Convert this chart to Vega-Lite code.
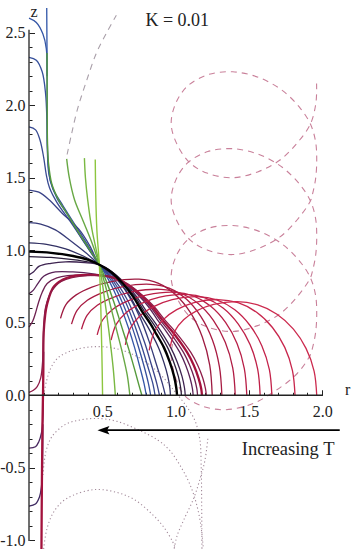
{
"$schema":"https://vega.github.io/schema/vega-lite/v6.json",
"width":321,"height":541,
"autosize":{"type":"none"},
"padding":{"left":29,"top":8,"right":2,"bottom":3},
"background":"white",
"config":{"view":{"stroke":null},"font":"Liberation Serif"},
"datasets":{
"bp":[
{"c":"btop","i":0,"r":0.121,"z":2.67},{"c":"btop","i":1,"r":0.122,"z":2.5},{"c":"btop","i":2,"r":0.123,"z":2.35},{"c":"btop","i":3,"r":0.123,"z":2.2},
{"c":"ba","i":0,"r":0,"z":2.6},{"c":"ba","i":1,"r":0.05,"z":2.57},{"c":"ba","i":2,"r":0.095,"z":2.49},{"c":"ba","i":3,"r":0.118,"z":2.39},{"c":"ba","i":4,"r":0.123,"z":2.2},{"c":"ba","i":5,"r":0.124,"z":1.9},{"c":"ba","i":6,"r":0.128,"z":1.65},{"c":"ba","i":7,"r":0.145,"z":1.48},{"c":"ba","i":8,"r":0.19,"z":1.36},{"c":"ba","i":9,"r":0.26,"z":1.25},{"c":"ba","i":10,"r":0.36,"z":1.08},{"c":"ba","i":11,"r":0.48,"z":0.9},{"c":"ba","i":12,"r":0.53,"z":0.82},{"c":"ba","i":13,"r":0.58,"z":0.72},{"c":"ba","i":14,"r":0.63,"z":0.6},{"c":"ba","i":15,"r":0.68,"z":0.46},{"c":"ba","i":16,"r":0.72,"z":0.33},{"c":"ba","i":17,"r":0.755,"z":0.2},{"c":"ba","i":18,"r":0.785,"z":0.08},{"c":"ba","i":19,"r":0.8,"z":0},
{"c":"bb","i":0,"r":0,"z":2.33},{"c":"bb","i":1,"r":0.05,"z":2.31},{"c":"bb","i":2,"r":0.09,"z":2.23},{"c":"bb","i":3,"r":0.113,"z":2.08},{"c":"bb","i":4,"r":0.122,"z":1.9},{"c":"bb","i":5,"r":0.125,"z":1.7},{"c":"bb","i":6,"r":0.135,"z":1.53},{"c":"bb","i":7,"r":0.165,"z":1.42},{"c":"bb","i":8,"r":0.23,"z":1.31},{"c":"bb","i":9,"r":0.33,"z":1.15},{"c":"bb","i":10,"r":0.41,"z":1.02},{"c":"bb","i":11,"r":0.48,"z":0.9},{"c":"bb","i":12,"r":0.535,"z":0.83},{"c":"bb","i":13,"r":0.59,"z":0.74},{"c":"bb","i":14,"r":0.645,"z":0.62},{"c":"bb","i":15,"r":0.7,"z":0.48},{"c":"bb","i":16,"r":0.745,"z":0.34},{"c":"bb","i":17,"r":0.785,"z":0.2},{"c":"bb","i":18,"r":0.815,"z":0.08},{"c":"bb","i":19,"r":0.83,"z":0},
{"c":"bc","i":0,"r":0,"z":1.85},{"c":"bc","i":1,"r":0.045,"z":1.83},{"c":"bc","i":2,"r":0.075,"z":1.76},{"c":"bc","i":3,"r":0.1,"z":1.64},{"c":"bc","i":4,"r":0.118,"z":1.52},{"c":"bc","i":5,"r":0.14,"z":1.43},{"c":"bc","i":6,"r":0.19,"z":1.33},{"c":"bc","i":7,"r":0.28,"z":1.2},{"c":"bc","i":8,"r":0.38,"z":1.05},{"c":"bc","i":9,"r":0.48,"z":0.9},{"c":"bc","i":10,"r":0.54,"z":0.835},{"c":"bc","i":11,"r":0.6,"z":0.75},{"c":"bc","i":12,"r":0.66,"z":0.64},{"c":"bc","i":13,"r":0.715,"z":0.5},{"c":"bc","i":14,"r":0.765,"z":0.35},{"c":"bc","i":15,"r":0.81,"z":0.2},{"c":"bc","i":16,"r":0.845,"z":0.08},{"c":"bc","i":17,"r":0.86,"z":0},
{"c":"bd","i":0,"r":0,"z":1.415},{"c":"bd","i":1,"r":0.067,"z":1.4},{"c":"bd","i":2,"r":0.135,"z":1.35},{"c":"bd","i":3,"r":0.226,"z":1.255},{"c":"bd","i":4,"r":0.34,"z":1.145},{"c":"bd","i":5,"r":0.415,"z":1.03},{"c":"bd","i":6,"r":0.48,"z":0.9},{"c":"bd","i":7,"r":0.545,"z":0.84},{"c":"bd","i":8,"r":0.61,"z":0.76},{"c":"bd","i":9,"r":0.675,"z":0.65},{"c":"bd","i":10,"r":0.735,"z":0.51},{"c":"bd","i":11,"r":0.79,"z":0.36},{"c":"bd","i":12,"r":0.835,"z":0.21},{"c":"bd","i":13,"r":0.872,"z":0.08},{"c":"bd","i":14,"r":0.89,"z":0},
{"c":"be","i":0,"r":0,"z":1.19},{"c":"be","i":1,"r":0.08,"z":1.18},{"c":"be","i":2,"r":0.18,"z":1.14},{"c":"be","i":3,"r":0.29,"z":1.06},{"c":"be","i":4,"r":0.39,"z":0.98},{"c":"be","i":5,"r":0.48,"z":0.9},{"c":"be","i":6,"r":0.55,"z":0.845},{"c":"be","i":7,"r":0.62,"z":0.775},{"c":"be","i":8,"r":0.69,"z":0.67},{"c":"be","i":9,"r":0.76,"z":0.53},{"c":"be","i":10,"r":0.82,"z":0.37},{"c":"be","i":11,"r":0.87,"z":0.21},{"c":"be","i":12,"r":0.91,"z":0.08},{"c":"be","i":13,"r":0.93,"z":0},
{"c":"bf","i":0,"r":0,"z":1.05},{"c":"bf","i":1,"r":0.12,"z":1.04},{"c":"bf","i":2,"r":0.25,"z":1.01},{"c":"bf","i":3,"r":0.37,"z":0.96},{"c":"bf","i":4,"r":0.48,"z":0.9},{"c":"bf","i":5,"r":0.553,"z":0.85},{"c":"bf","i":6,"r":0.626,"z":0.77},{"c":"bf","i":7,"r":0.69,"z":0.68},{"c":"bf","i":8,"r":0.745,"z":0.58},{"c":"bf","i":9,"r":0.8,"z":0.49},{"c":"bf","i":10,"r":0.883,"z":0.33},{"c":"bf","i":11,"r":0.919,"z":0.23},{"c":"bf","i":12,"r":0.947,"z":0.13},{"c":"bf","i":13,"r":0.961,"z":0.05},{"c":"bf","i":14,"r":0.965,"z":0},
{"c":"p1","i":0,"r":0,"z":0.956},{"c":"p1","i":1,"r":0.15,"z":0.95},{"c":"p1","i":2,"r":0.3,"z":0.935},{"c":"p1","i":3,"r":0.4,"z":0.92},{"c":"p1","i":4,"r":0.48,"z":0.9},{"c":"p1","i":5,"r":0.565,"z":0.85},{"c":"p1","i":6,"r":0.649,"z":0.77},{"c":"p1","i":7,"r":0.723,"z":0.68},{"c":"p1","i":8,"r":0.786,"z":0.58},{"c":"p1","i":9,"r":0.85,"z":0.49},{"c":"p1","i":10,"r":0.945,"z":0.33},{"c":"p1","i":11,"r":0.987,"z":0.23},{"c":"p1","i":12,"r":1.019,"z":0.13},{"c":"p1","i":13,"r":1.035,"z":0.05},{"c":"p1","i":14,"r":1.04,"z":0},
{"c":"p2","i":0,"r":0,"z":0.83},{"c":"p2","i":1,"r":0.03,"z":0.85},{"c":"p2","i":2,"r":0.07,"z":0.89},{"c":"p2","i":3,"r":0.15,"z":0.91},{"c":"p2","i":4,"r":0.25,"z":0.92},{"c":"p2","i":5,"r":0.38,"z":0.915},{"c":"p2","i":6,"r":0.48,"z":0.9},{"c":"p2","i":7,"r":0.568,"z":0.85},{"c":"p2","i":8,"r":0.657,"z":0.77},{"c":"p2","i":9,"r":0.734,"z":0.68},{"c":"p2","i":10,"r":0.801,"z":0.58},{"c":"p2","i":11,"r":0.867,"z":0.49},{"c":"p2","i":12,"r":0.966,"z":0.33},{"c":"p2","i":13,"r":1.011,"z":0.23},{"c":"p2","i":14,"r":1.044,"z":0.13},{"c":"p2","i":15,"r":1.061,"z":0.05},{"c":"p2","i":16,"r":1.066,"z":0},
{"c":"p3","i":0,"r":0,"z":0.7},{"c":"p3","i":1,"r":0.03,"z":0.725},{"c":"p3","i":2,"r":0.06,"z":0.77},{"c":"p3","i":3,"r":0.1,"z":0.82},{"c":"p3","i":4,"r":0.18,"z":0.85},{"c":"p3","i":5,"r":0.3,"z":0.85},{"c":"p3","i":6,"r":0.45,"z":0.835},{"c":"p3","i":7,"r":0.58,"z":0.81},{"c":"p3","i":8,"r":0.662,"z":0.765},{"c":"p3","i":9,"r":0.743,"z":0.693},{"c":"p3","i":10,"r":0.814,"z":0.612},{"c":"p3","i":11,"r":0.875,"z":0.522},{"c":"p3","i":12,"r":0.936,"z":0.441},{"c":"p3","i":13,"r":1.028,"z":0.297},{"c":"p3","i":14,"r":1.069,"z":0.207},{"c":"p3","i":15,"r":1.099,"z":0.117},{"c":"p3","i":16,"r":1.115,"z":0.045},{"c":"p3","i":17,"r":1.12,"z":0},
{"c":"p4","i":0,"r":0,"z":0.47},{"c":"p4","i":1,"r":0.025,"z":0.51},{"c":"p4","i":2,"r":0.044,"z":0.565},{"c":"p4","i":3,"r":0.065,"z":0.64},{"c":"p4","i":4,"r":0.09,"z":0.71},{"c":"p4","i":5,"r":0.124,"z":0.77},{"c":"p4","i":6,"r":0.19,"z":0.81},{"c":"p4","i":7,"r":0.37,"z":0.83},{"c":"p4","i":8,"r":0.58,"z":0.81},{"c":"p4","i":9,"r":0.666,"z":0.765},{"c":"p4","i":10,"r":0.752,"z":0.693},{"c":"p4","i":11,"r":0.827,"z":0.612},{"c":"p4","i":12,"r":0.892,"z":0.522},{"c":"p4","i":13,"r":0.956,"z":0.441},{"c":"p4","i":14,"r":1.053,"z":0.297},{"c":"p4","i":15,"r":1.096,"z":0.207},{"c":"p4","i":16,"r":1.128,"z":0.117},{"c":"p4","i":17,"r":1.145,"z":0.045},{"c":"p4","i":18,"r":1.15,"z":0},
{"c":"l1","i":0,"r":0,"z":-0.365},{"c":"l1","i":1,"r":0.044,"z":-0.355},{"c":"l1","i":2,"r":0.067,"z":-0.32},{"c":"l1","i":3,"r":0.085,"z":-0.26},{"c":"l1","i":4,"r":0.094,"z":-0.17},{"c":"l1","i":5,"r":0.097,"z":-0.05},{"c":"l1","i":6,"r":0.098,"z":0.1},{"c":"l1","i":7,"r":0.1,"z":0.3},
{"c":"l2","i":0,"r":0,"z":-0.764},{"c":"l2","i":1,"r":0.044,"z":-0.75},{"c":"l2","i":2,"r":0.072,"z":-0.7},{"c":"l2","i":3,"r":0.085,"z":-0.63},{"c":"l2","i":4,"r":0.09,"z":-0.56},{"c":"l2","i":5,"r":0.093,"z":-0.4},{"c":"l2","i":6,"r":0.095,"z":-0.2}
],
"rd":[
{"c":"rt","i":0,"r":0.085,"z":-1.06},{"c":"rt","i":1,"r":0.088,"z":-0.6},{"c":"rt","i":2,"r":0.092,"z":-0.2},{"c":"rt","i":3,"r":0.097,"z":0.1},{"c":"rt","i":4,"r":0.1,"z":0.43},{"c":"rt","i":5,"r":0.11,"z":0.55},{"c":"rt","i":6,"r":0.124,"z":0.63},{"c":"rt","i":7,"r":0.17,"z":0.75},{"c":"rt","i":8,"r":0.26,"z":0.81},{"c":"rt","i":9,"r":0.4,"z":0.83},{"c":"rt","i":10,"r":0.58,"z":0.81},{"c":"rt","i":11,"r":0.671,"z":0.765},{"c":"rt","i":12,"r":0.761,"z":0.693},{"c":"rt","i":13,"r":0.84,"z":0.612},{"c":"rt","i":14,"r":0.908,"z":0.522},{"c":"rt","i":15,"r":0.976,"z":0.441},{"c":"rt","i":16,"r":1.078,"z":0.297},{"c":"rt","i":17,"r":1.124,"z":0.207},{"c":"rt","i":18,"r":1.157,"z":0.117},{"c":"rt","i":19,"r":1.175,"z":0.045},{"c":"rt","i":20,"r":1.18,"z":0},
{"c":"rt2","i":0,"r":0,"z":0.02},{"c":"rt2","i":1,"r":0.03,"z":0.035},{"c":"rt2","i":2,"r":0.056,"z":0.06},{"c":"rt2","i":3,"r":0.08,"z":0.12},{"c":"rt2","i":4,"r":0.094,"z":0.25},{"c":"rt2","i":5,"r":0.1,"z":0.45},{"c":"rt2","i":6,"r":0.112,"z":0.6},{"c":"rt2","i":7,"r":0.15,"z":0.71},{"c":"rt2","i":8,"r":0.22,"z":0.785},{"c":"rt2","i":9,"r":0.4,"z":0.825},{"c":"rt2","i":10,"r":0.58,"z":0.81},{"c":"rt2","i":11,"r":0.675,"z":0.765},{"c":"rt2","i":12,"r":0.77,"z":0.693},{"c":"rt2","i":13,"r":0.853,"z":0.612},{"c":"rt2","i":14,"r":0.925,"z":0.522},{"c":"rt2","i":15,"r":0.996,"z":0.441},{"c":"rt2","i":16,"r":1.103,"z":0.297},{"c":"rt2","i":17,"r":1.151,"z":0.207},{"c":"rt2","i":18,"r":1.186,"z":0.117},{"c":"rt2","i":19,"r":1.204,"z":0.045},{"c":"rt2","i":20,"r":1.21,"z":0},
{"c":"r1","i":0,"r":0.215,"z":0.53},{"c":"r1","i":1,"r":0.252,"z":0.625},{"c":"r1","i":2,"r":0.322,"z":0.692},{"c":"r1","i":3,"r":0.429,"z":0.746},{"c":"r1","i":4,"r":0.563,"z":0.784},{"c":"r1","i":5,"r":0.75,"z":0.8},{"c":"r1","i":6,"r":0.88,"z":0.773},{"c":"r1","i":7,"r":1.0,"z":0.693},{"c":"r1","i":8,"r":1.104,"z":0.566},{"c":"r1","i":9,"r":1.183,"z":0.4},{"c":"r1","i":10,"r":1.233,"z":0.207},{"c":"r1","i":11,"r":1.25,"z":0},
{"c":"r2","i":0,"r":0.29,"z":0.49},{"c":"r2","i":1,"r":0.328,"z":0.586},{"c":"r2","i":2,"r":0.398,"z":0.655},{"c":"r2","i":3,"r":0.506,"z":0.71},{"c":"r2","i":4,"r":0.641,"z":0.749},{"c":"r2","i":5,"r":0.83,"z":0.765},{"c":"r2","i":6,"r":0.956,"z":0.739},{"c":"r2","i":7,"r":1.073,"z":0.663},{"c":"r2","i":8,"r":1.174,"z":0.541},{"c":"r2","i":9,"r":1.251,"z":0.383},{"c":"r2","i":10,"r":1.299,"z":0.198},{"c":"r2","i":11,"r":1.316,"z":0},
{"c":"r3","i":0,"r":0.358,"z":0.455},{"c":"r3","i":1,"r":0.396,"z":0.551},{"c":"r3","i":2,"r":0.466,"z":0.62},{"c":"r3","i":3,"r":0.575,"z":0.675},{"c":"r3","i":4,"r":0.71,"z":0.714},{"c":"r3","i":5,"r":0.9,"z":0.73},{"c":"r3","i":6,"r":1.031,"z":0.705},{"c":"r3","i":7,"r":1.154,"z":0.632},{"c":"r3","i":8,"r":1.258,"z":0.516},{"c":"r3","i":9,"r":1.339,"z":0.365},{"c":"r3","i":10,"r":1.39,"z":0.189},{"c":"r3","i":11,"r":1.407,"z":0},
{"c":"r4","i":0,"r":0.465,"z":0.416},{"c":"r4","i":1,"r":0.502,"z":0.519},{"c":"r4","i":2,"r":0.57,"z":0.592},{"c":"r4","i":3,"r":0.675,"z":0.651},{"c":"r4","i":4,"r":0.806,"z":0.692},{"c":"r4","i":5,"r":0.99,"z":0.71},{"c":"r4","i":6,"r":1.118,"z":0.686},{"c":"r4","i":7,"r":1.238,"z":0.615},{"c":"r4","i":8,"r":1.341,"z":0.502},{"c":"r4","i":9,"r":1.42,"z":0.355},{"c":"r4","i":10,"r":1.469,"z":0.184},{"c":"r4","i":11,"r":1.486,"z":0},
{"c":"r5","i":0,"r":0.56,"z":0.38},{"c":"r5","i":1,"r":0.596,"z":0.49},{"c":"r5","i":2,"r":0.662,"z":0.569},{"c":"r5","i":3,"r":0.764,"z":0.632},{"c":"r5","i":4,"r":0.892,"z":0.676},{"c":"r5","i":5,"r":1.07,"z":0.695},{"c":"r5","i":6,"r":1.201,"z":0.671},{"c":"r5","i":7,"r":1.324,"z":0.602},{"c":"r5","i":8,"r":1.428,"z":0.491},{"c":"r5","i":9,"r":1.509,"z":0.348},{"c":"r5","i":10,"r":1.56,"z":0.18},{"c":"r5","i":11,"r":1.577,"z":0},
{"c":"r6","i":0,"r":0.657,"z":0.347},{"c":"r6","i":1,"r":0.692,"z":0.464},{"c":"r6","i":2,"r":0.756,"z":0.547},{"c":"r6","i":3,"r":0.854,"z":0.613},{"c":"r6","i":4,"r":0.977,"z":0.66},{"c":"r6","i":5,"r":1.15,"z":0.68},{"c":"r6","i":6,"r":1.281,"z":0.657},{"c":"r6","i":7,"r":1.404,"z":0.589},{"c":"r6","i":8,"r":1.508,"z":0.481},{"c":"r6","i":9,"r":1.589,"z":0.34},{"c":"r6","i":10,"r":1.64,"z":0.176},{"c":"r6","i":11,"r":1.657,"z":0},
{"c":"r7","i":0,"r":0.82,"z":0.31},{"c":"r7","i":1,"r":0.853,"z":0.433},{"c":"r7","i":2,"r":0.914,"z":0.52},{"c":"r7","i":3,"r":1.008,"z":0.59},{"c":"r7","i":4,"r":1.126,"z":0.639},{"c":"r7","i":5,"r":1.29,"z":0.66},{"c":"r7","i":6,"r":1.426,"z":0.638},{"c":"r7","i":7,"r":1.553,"z":0.572},{"c":"r7","i":8,"r":1.661,"z":0.467},{"c":"r7","i":9,"r":1.745,"z":0.33},{"c":"r7","i":10,"r":1.797,"z":0.171},{"c":"r7","i":11,"r":1.815,"z":0},
{"c":"r8","i":0,"r":0.964,"z":0.335},{"c":"r8","i":1,"r":0.996,"z":0.444},{"c":"r8","i":2,"r":1.055,"z":0.521},{"c":"r8","i":3,"r":1.146,"z":0.583},{"c":"r8","i":4,"r":1.26,"z":0.626},{"c":"r8","i":5,"r":1.42,"z":0.645},{"c":"r8","i":6,"r":1.561,"z":0.623},{"c":"r8","i":7,"r":1.692,"z":0.559},{"c":"r8","i":8,"r":1.804,"z":0.456},{"c":"r8","i":9,"r":1.89,"z":0.323},{"c":"r8","i":10,"r":1.945,"z":0.167},{"c":"r8","i":11,"r":1.963,"z":0}
],
"gr":[
{"c":"g4","i":0,"r":0.123,"z":2.36},{"c":"g4","i":1,"r":0.124,"z":2.0},{"c":"g4","i":2,"r":0.126,"z":1.75},{"c":"g4","i":3,"r":0.133,"z":1.6},{"c":"g4","i":4,"r":0.155,"z":1.46},{"c":"g4","i":5,"r":0.2,"z":1.35},{"c":"g4","i":6,"r":0.27,"z":1.235},{"c":"g4","i":7,"r":0.34,"z":1.12},{"c":"g4","i":8,"r":0.41,"z":1.01},{"c":"g4","i":9,"r":0.48,"z":0.9},{"c":"g4","i":10,"r":0.53,"z":0.78},{"c":"g4","i":11,"r":0.58,"z":0.64},{"c":"g4","i":12,"r":0.63,"z":0.48},{"c":"g4","i":13,"r":0.68,"z":0.32},{"c":"g4","i":14,"r":0.72,"z":0.18},{"c":"g4","i":15,"r":0.75,"z":0.07},{"c":"g4","i":16,"r":0.77,"z":0},
{"c":"g3","i":0,"r":0.257,"z":1.63},{"c":"g3","i":1,"r":0.275,"z":1.5},{"c":"g3","i":2,"r":0.31,"z":1.35},{"c":"g3","i":3,"r":0.37,"z":1.2},{"c":"g3","i":4,"r":0.43,"z":1.05},{"c":"g3","i":5,"r":0.48,"z":0.9},{"c":"g3","i":6,"r":0.52,"z":0.76},{"c":"g3","i":7,"r":0.56,"z":0.6},{"c":"g3","i":8,"r":0.6,"z":0.44},{"c":"g3","i":9,"r":0.64,"z":0.28},{"c":"g3","i":10,"r":0.67,"z":0.14},{"c":"g3","i":11,"r":0.688,"z":0},
{"c":"g2","i":0,"r":0.378,"z":1.635},{"c":"g2","i":1,"r":0.385,"z":1.5},{"c":"g2","i":2,"r":0.4,"z":1.35},{"c":"g2","i":3,"r":0.43,"z":1.14},{"c":"g2","i":4,"r":0.455,"z":1.02},{"c":"g2","i":5,"r":0.48,"z":0.9},{"c":"g2","i":6,"r":0.505,"z":0.74},{"c":"g2","i":7,"r":0.53,"z":0.56},{"c":"g2","i":8,"r":0.555,"z":0.36},{"c":"g2","i":9,"r":0.575,"z":0.18},{"c":"g2","i":10,"r":0.589,"z":0},
{"c":"g1","i":0,"r":0.452,"z":1.625},{"c":"g1","i":1,"r":0.455,"z":1.4},{"c":"g1","i":2,"r":0.463,"z":1.14},{"c":"g1","i":3,"r":0.48,"z":0.9},{"c":"g1","i":4,"r":0.49,"z":0.6},{"c":"g1","i":5,"r":0.497,"z":0.3},{"c":"g1","i":6,"r":0.502,"z":0}
],
"bk":[
{"c":"k","i":0,"r":0,"z":0.99},{"c":"k","i":1,"r":0.15,"z":0.982},{"c":"k","i":2,"r":0.3,"z":0.96},{"c":"k","i":3,"r":0.4,"z":0.935},{"c":"k","i":4,"r":0.48,"z":0.9},{"c":"k","i":5,"r":0.56,"z":0.85},{"c":"k","i":6,"r":0.64,"z":0.77},{"c":"k","i":7,"r":0.71,"z":0.68},{"c":"k","i":8,"r":0.77,"z":0.58},{"c":"k","i":9,"r":0.83,"z":0.49},{"c":"k","i":10,"r":0.87,"z":0.42},{"c":"k","i":11,"r":0.92,"z":0.33},{"c":"k","i":12,"r":0.96,"z":0.23},{"c":"k","i":13,"r":0.99,"z":0.13},{"c":"k","i":14,"r":1.005,"z":0.05},{"c":"k","i":15,"r":1.01,"z":0}
],
"ds":[
{"c":"dg","i":0,"r":0.26,"z":1.66},{"c":"dg","i":1,"r":0.29,"z":1.8},{"c":"dg","i":2,"r":0.33,"z":1.97},{"c":"dg","i":3,"r":0.39,"z":2.16},{"c":"dg","i":4,"r":0.46,"z":2.36},{"c":"dg","i":5,"r":0.53,"z":2.5},{"c":"dg","i":6,"r":0.596,"z":2.62},
{"c":"ring","i":0,"r":1.962,"z":2.15},{"c":"ring","i":1,"r":1.958,"z":2.02},
{"c":"ring","i":2,"r":1.92,"z":1.87},{"c":"ring","i":3,"r":1.83,"z":1.74},{"c":"ring","i":4,"r":1.71,"z":1.62},{"c":"ring","i":5,"r":1.56,"z":1.54},{"c":"ring","i":6,"r":1.39,"z":1.5},{"c":"ring","i":7,"r":1.22,"z":1.53},{"c":"ring","i":8,"r":1.1,"z":1.6},{"c":"ring","i":9,"r":1.01,"z":1.73},{"c":"ring","i":10,"r":0.97,"z":1.87},{"c":"ring","i":11,"r":1.0,"z":2.01},{"c":"ring","i":12,"r":1.08,"z":2.13},{"c":"ring","i":13,"r":1.22,"z":2.21},{"c":"ring","i":14,"r":1.39,"z":2.23},{"c":"ring","i":15,"r":1.57,"z":2.19},{"c":"ring","i":16,"r":1.73,"z":2.1},{"c":"ring","i":17,"r":1.85,"z":1.98},{"c":"ring","i":18,"r":1.92,"z":1.87},{"c":"ring","i":19,"r":1.955,"z":1.75},{"c":"ring","i":20,"r":1.963,"z":1.62},{"c":"ring","i":21,"r":1.955,"z":1.49},{"c":"ring","i":22,"r":1.935,"z":1.39},
{"c":"ring","i":23,"r":1.92,"z":1.34},{"c":"ring","i":24,"r":1.83,"z":1.21},{"c":"ring","i":25,"r":1.71,"z":1.09},{"c":"ring","i":26,"r":1.56,"z":1.01},{"c":"ring","i":27,"r":1.39,"z":0.97},{"c":"ring","i":28,"r":1.22,"z":1.0},{"c":"ring","i":29,"r":1.1,"z":1.07},{"c":"ring","i":30,"r":1.01,"z":1.2},{"c":"ring","i":31,"r":0.97,"z":1.34},{"c":"ring","i":32,"r":1.0,"z":1.48},{"c":"ring","i":33,"r":1.08,"z":1.6},{"c":"ring","i":34,"r":1.22,"z":1.68},{"c":"ring","i":35,"r":1.39,"z":1.7},{"c":"ring","i":36,"r":1.57,"z":1.66},{"c":"ring","i":37,"r":1.73,"z":1.57},{"c":"ring","i":38,"r":1.85,"z":1.45},{"c":"ring","i":39,"r":1.92,"z":1.34},{"c":"ring","i":40,"r":1.955,"z":1.22},{"c":"ring","i":41,"r":1.963,"z":1.09},{"c":"ring","i":42,"r":1.955,"z":0.96},{"c":"ring","i":43,"r":1.935,"z":0.86},
{"c":"ring","i":44,"r":1.92,"z":0.81},{"c":"ring","i":45,"r":1.83,"z":0.68},{"c":"ring","i":46,"r":1.71,"z":0.56},{"c":"ring","i":47,"r":1.56,"z":0.48},{"c":"ring","i":48,"r":1.39,"z":0.44},{"c":"ring","i":49,"r":1.22,"z":0.47},{"c":"ring","i":50,"r":1.1,"z":0.54},{"c":"ring","i":51,"r":1.01,"z":0.67},{"c":"ring","i":52,"r":0.97,"z":0.81},{"c":"ring","i":53,"r":1.0,"z":0.95},{"c":"ring","i":54,"r":1.08,"z":1.07},{"c":"ring","i":55,"r":1.22,"z":1.15},{"c":"ring","i":56,"r":1.39,"z":1.17},{"c":"ring","i":57,"r":1.57,"z":1.13},{"c":"ring","i":58,"r":1.73,"z":1.04},{"c":"ring","i":59,"r":1.85,"z":0.92},{"c":"ring","i":60,"r":1.92,"z":0.81},{"c":"ring","i":61,"r":1.955,"z":0.69},{"c":"ring","i":62,"r":1.963,"z":0.56},{"c":"ring","i":63,"r":1.955,"z":0.43},{"c":"ring","i":64,"r":1.935,"z":0.33},
{"c":"ring","i":65,"r":1.92,"z":0.28},{"c":"ring","i":66,"r":1.83,"z":0.15},{"c":"ring","i":67,"r":1.68,"z":0.03},{"c":"ring","i":68,"r":1.52,"z":-0.06},{"c":"ring","i":69,"r":1.33,"z":-0.1},{"c":"ring","i":70,"r":1.17,"z":-0.07},{"c":"ring","i":71,"r":1.06,"z":0.0},{"c":"ring","i":72,"r":1.0,"z":0.12},{"c":"ring","i":73,"r":0.97,"z":0.28},{"c":"ring","i":74,"r":0.99,"z":0.4}
],
"dt":[
{"c":"d1","i":0,"r":0.1,"z":0.0},{"c":"d1","i":1,"r":0.12,"z":0.1},{"c":"d1","i":2,"r":0.15,"z":0.19},{"c":"d1","i":3,"r":0.2,"z":0.26},{"c":"d1","i":4,"r":0.3,"z":0.31},{"c":"d1","i":5,"r":0.45,"z":0.335},{"c":"d1","i":6,"r":0.6,"z":0.32},{"c":"d1","i":7,"r":0.75,"z":0.26},{"c":"d1","i":8,"r":0.88,"z":0.16},{"c":"d1","i":9,"r":0.96,"z":0.07},{"c":"d1","i":10,"r":1.0,"z":0.02},{"c":"d1","i":11,"r":1.07,"z":-0.07},{"c":"d1","i":12,"r":1.13,"z":-0.17},{"c":"d1","i":13,"r":1.165,"z":-0.3},{"c":"d1","i":14,"r":1.175,"z":-0.5},{"c":"d1","i":15,"r":1.178,"z":-0.75},{"c":"d1","i":16,"r":1.18,"z":-1.06},
{"c":"d2","i":0,"r":0.095,"z":-0.55},{"c":"d2","i":1,"r":0.105,"z":-0.45},{"c":"d2","i":2,"r":0.12,"z":-0.37},{"c":"d2","i":3,"r":0.16,"z":-0.28},{"c":"d2","i":4,"r":0.25,"z":-0.2},{"c":"d2","i":5,"r":0.35,"z":-0.17},{"c":"d2","i":6,"r":0.47,"z":-0.16},{"c":"d2","i":7,"r":0.6,"z":-0.18},{"c":"d2","i":8,"r":0.75,"z":-0.24},{"c":"d2","i":9,"r":0.88,"z":-0.31},{"c":"d2","i":10,"r":0.96,"z":-0.38},{"c":"d2","i":11,"r":1.04,"z":-0.5},{"c":"d2","i":12,"r":1.1,"z":-0.62},{"c":"d2","i":13,"r":1.14,"z":-0.74},{"c":"d2","i":14,"r":1.17,"z":-0.88},{"c":"d2","i":15,"r":1.19,"z":-1.06},
{"c":"d3","i":0,"r":0.1,"z":-1.06},{"c":"d3","i":1,"r":0.12,"z":-0.93},{"c":"d3","i":2,"r":0.16,"z":-0.82},{"c":"d3","i":3,"r":0.22,"z":-0.74},{"c":"d3","i":4,"r":0.3,"z":-0.69},{"c":"d3","i":5,"r":0.45,"z":-0.65},{"c":"d3","i":6,"r":0.6,"z":-0.67},{"c":"d3","i":7,"r":0.72,"z":-0.72},{"c":"d3","i":8,"r":0.84,"z":-0.82},{"c":"d3","i":9,"r":0.92,"z":-0.91},{"c":"d3","i":10,"r":0.98,"z":-1.01},{"c":"d3","i":11,"r":1.0,"z":-1.06},
{"c":"d4","i":0,"r":1.22,"z":-0.3},{"c":"d4","i":1,"r":1.2,"z":-0.45},{"c":"d4","i":2,"r":1.16,"z":-0.6},{"c":"d4","i":3,"r":1.12,"z":-0.72},{"c":"d4","i":4,"r":1.06,"z":-0.85},{"c":"d4","i":5,"r":1.01,"z":-0.97},{"c":"d4","i":6,"r":0.99,"z":-1.06}
]
},
"layer":[
{"data":{"name":"dt"},
 "mark":{"type":"line","interpolate":"catmull-rom","strokeWidth":1.1,"strokeDash":[1.2,2.6],"color":"#a38a9a"},
 "encoding":{
  "x":{"field":"r","type":"quantitative","scale":{"domain":[0,2.19],"nice":false,"zero":false},
       "axis":{"orient":"bottom","values":[0.5,1.0,1.5,2.0],
               "domain":false,"grid":false,"title":null,"offset":-153.74,
               "tickSize":-5.5,"tickColor":"#222","tickWidth":1,
               "format":".1f",
               "labelFont":"Liberation Serif","labelFontSize":16,"labelColor":"#222","labelPadding":13.5,
               "labelFlush":false,"labelOverlap":false,"labelBound":false}},
  "y":{"field":"z","type":"quantitative","scale":{"domain":[-1.06,2.67],"nice":false,"zero":false},
       "axis":{"orient":"left","values":[-1.0,-0.5,0.0,0.5,1.0,1.5,2.0,2.5],
               "domain":false,"grid":false,"title":null,"offset":0,
               "tickSize":-5.5,"tickColor":"#222","tickWidth":1,
               "labelExpr":"(datum.value < -0.001 ? '-' : '') + format(abs(datum.value),'.1f')",
               "labelFont":"Liberation Serif","labelFontSize":16,"labelColor":"#222","labelPadding":9.5,
               "labelFlush":false,"labelOverlap":false,"labelBound":false}},
  "detail":{"field":"c"},
  "order":{"field":"i","type":"quantitative"}}},
{"data":{"name":"ds"},
 "mark":{"type":"line","interpolate":"catmull-rom","strokeWidth":1.1,"strokeDash":[6,5]},
 "encoding":{
  "x":{"field":"r","type":"quantitative",
       "axis":{"orient":"bottom","values":[0.1,0.2,0.3,0.4,0.6,0.7,0.8,0.9,1.1,1.2,1.3,1.4,1.6,1.7,1.8,1.9],
               "domain":false,"grid":false,"title":null,"offset":-153.74,"labels":false,
               "tickSize":-3,"tickColor":"#222","tickWidth":1}},
  "y":{"field":"z","type":"quantitative",
       "axis":{"orient":"left","values":[-0.9,-0.8,-0.7,-0.6,-0.4,-0.3,-0.2,-0.1,0.1,0.2,0.3,0.4,0.6,0.7,0.8,0.9,1.1,1.2,1.3,1.4,1.6,1.7,1.8,1.9,2.1,2.2,2.3,2.4],
               "domain":false,"grid":false,"title":null,"offset":0,"labels":false,
               "tickSize":-3,"tickColor":"#222","tickWidth":1}},
  "detail":{"field":"c"},
  "color":{"condition":{"test":"datum.c==='dg'","value":"#a99fa9"},"value":"#c9809a"},
  "order":{"field":"i","type":"quantitative"}}},
{"data":{"name":"bp"},
 "mark":{"type":"line","interpolate":"catmull-rom","strokeWidth":1.3},
 "encoding":{
  "x":{"field":"r","type":"quantitative","axis":null},
  "y":{"field":"z","type":"quantitative","axis":null},
  "color":{"field":"c","type":"nominal","legend":null,
    "scale":{"domain":["btop","ba","bb","bc","bd","be","bf","p1","p2","p3","p4","l1","l2"],
             "range":["#2f55a8","#3456a6","#36509c","#384a92","#3a4388","#373b78","#302f62","#2a1d3a","#3d2350","#5a2358","#6e2050","#4a2860","#3e2a62"]}},
  "order":{"field":"i","type":"quantitative"}}},
{"data":{"name":"rd"},
 "mark":{"type":"line","interpolate":"catmull-rom"},
 "encoding":{
  "x":{"field":"r","type":"quantitative","axis":null},
  "y":{"field":"z","type":"quantitative","axis":null},
  "color":{"field":"c","type":"nominal","legend":null,
    "scale":{"domain":["rt","rt2","r1","r2","r3","r4","r5","r6","r7","r8"],
             "range":["#a3123c","#8e1c48","#9e1a40","#a81b42","#b01c44","#b81e46","#bf2048","#c4224a","#c8264c","#cc2a4e"]}},
  "strokeWidth":{"condition":{"test":"datum.c==='rt'","value":2.3},"value":1.3},
  "order":{"field":"i","type":"quantitative"}}},
{"data":{"name":"gr"},
 "mark":{"type":"line","interpolate":"catmull-rom","strokeWidth":1.4},
 "encoding":{
  "x":{"field":"r","type":"quantitative","axis":null},
  "y":{"field":"z","type":"quantitative","axis":null},
  "color":{"field":"c","type":"nominal","legend":null,
    "scale":{"domain":["g1","g2","g3","g4"],"range":["#8dc63f","#79b842","#68a845","#559a3c"]}},
  "order":{"field":"i","type":"quantitative"}}},
{"data":{"name":"bk"},
 "mark":{"type":"line","interpolate":"catmull-rom","strokeWidth":2.4,"color":"#000000"},
 "encoding":{
  "x":{"field":"r","type":"quantitative","axis":null},
  "y":{"field":"z","type":"quantitative","axis":null},
  "order":{"field":"i","type":"quantitative"}}},
{"data":{"values":[{}]},
 "mark":{"type":"rule","color":"#222","strokeWidth":1.3},
 "encoding":{"x":{"datum":0,"type":"quantitative","axis":null},"x2":{"datum":2.004},"y":{"datum":0,"type":"quantitative","axis":null}}},
{"data":{"values":[{}]},
 "mark":{"type":"rule","color":"#222","strokeWidth":1.3},
 "encoding":{"x":{"datum":0,"type":"quantitative","axis":null},"y":{"datum":-1.005,"type":"quantitative","axis":null},"y2":{"datum":2.52}}},
{"data":{"values":[{}]},
 "mark":{"type":"rule","color":"#000","strokeWidth":1.8},
 "encoding":{"x":{"datum":0.52,"type":"quantitative","axis":null},"x2":{"datum":2.12},"y":{"datum":-0.241,"type":"quantitative","axis":null}}},
{"data":{"values":[{}]},
 "mark":{"type":"point","shape":"M-1,0L1,-0.7L0.6,0L1,0.7Z","filled":true,"size":144,"color":"#000","opacity":1},
 "encoding":{"x":{"datum":0.508,"type":"quantitative","axis":null},"y":{"datum":-0.241,"type":"quantitative","axis":null}}},
{"data":{"values":[{}]},
 "mark":{"type":"text","text":"K = 0.01","font":"Liberation Serif","fontSize":18,"align":"left","baseline":"alphabetic","color":"#222"},
 "encoding":{"x":{"datum":0.794,"type":"quantitative","axis":null},"y":{"datum":2.547,"type":"quantitative","axis":null}}},
{"data":{"values":[{}]},
 "mark":{"type":"text","text":"Increasing T","font":"Liberation Serif","fontSize":18.5,"align":"left","baseline":"alphabetic","color":"#222"},
 "encoding":{"x":{"datum":1.452,"type":"quantitative","axis":null},"y":{"datum":-0.41,"type":"quantitative","axis":null}}},
{"data":{"values":[{}]},
 "mark":{"type":"text","text":"z","font":"Liberation Serif","fontSize":16,"align":"left","baseline":"alphabetic","color":"#222"},
 "encoding":{"x":{"datum":0.01,"type":"quantitative","axis":null},"y":{"datum":2.611,"type":"quantitative","axis":null}}},
{"data":{"values":[{}]},
 "mark":{"type":"text","text":"r","font":"Liberation Serif","fontSize":16,"align":"left","baseline":"alphabetic","color":"#222"},
 "encoding":{"x":{"datum":2.156,"type":"quantitative","axis":null},"y":{"datum":0.0,"type":"quantitative","axis":null}}}
],
"resolve":{"scale":{"color":"independent"},"axis":{"x":"independent","y":"independent"}}
}
